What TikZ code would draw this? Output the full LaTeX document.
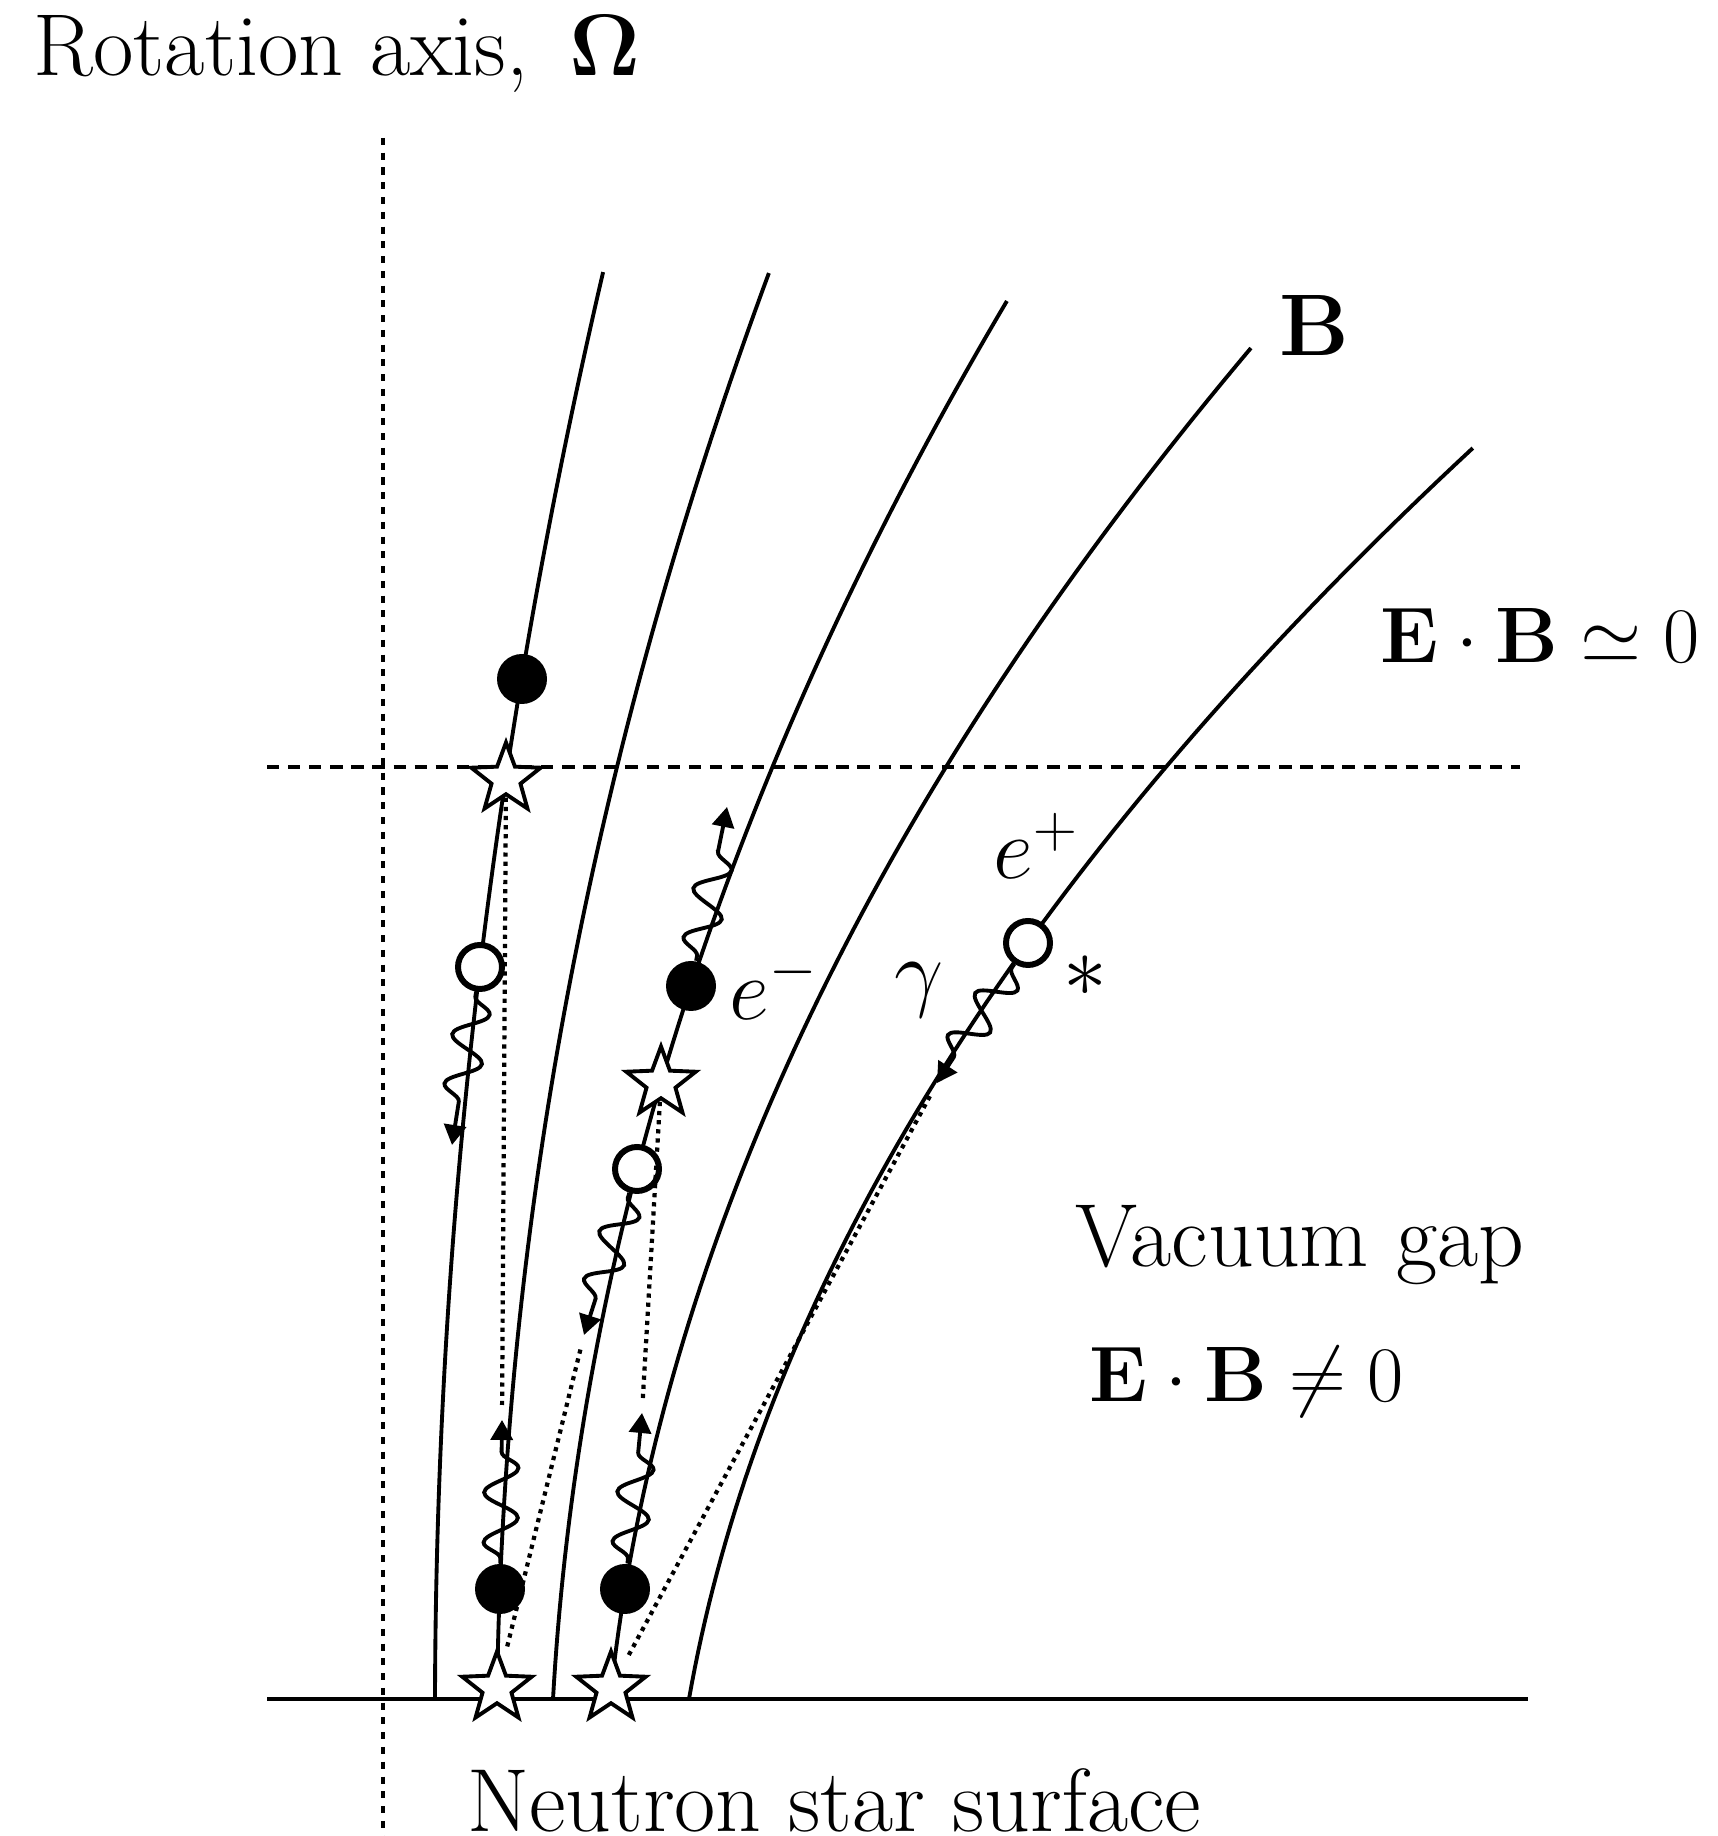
\documentclass[tikz,border=0pt]{standalone}
\usepackage{amsmath,amssymb,bm}
\usepackage{tikz}
\usetikzlibrary{arrows.meta,positioning,shapes.geometric,decorations.pathmorphing}
\tikzset{
  fline/.style={line width=1.1pt},
  gline/.style={line width=1.1pt,-{Triangle[length=2mm,width=2.2mm]},decorate,
    decoration={snake,amplitude=1.7mm,segment length=5mm,pre length=0.5mm,post length=2.5mm}},
  dpath/.style={line width=1.2pt,dash pattern=on 1.2pt off 1.4pt,shorten <=1.5mm},
  emin/.style={circle,fill=black,minimum size=5mm,inner sep=0pt},
  epos/.style={circle,draw=black,fill=white,line width=1.7pt,minimum size=4.4mm,inner sep=0pt},
  pstar/.style={star,star points=5,star point ratio=2.4,draw=black,fill=white,line width=1.1pt,minimum size=7.3mm,inner sep=0pt},
  lab/.style={inner sep=0pt},
  eqlab/.style={inner sep=0pt,scale=0.9,transform shape}
}

\begin{document}
\begin{tikzpicture}[font=\fontsize{25.5}{30}\selectfont]
  \useasboundingbox (0,0) rectangle (17.18,18.36);
  % rotation axis, top of the gap, surface
  \draw[line width=1pt,dash pattern=on 2pt off 2.2pt] (3.83,16.98) -- (3.83,0);
  \draw[line width=1pt,dash pattern=on 3.5pt off 2.5pt] (2.67,10.69) -- (15.20,10.69);
  \draw[fline] (2.67,1.37) -- (15.28,1.37);
  % open field lines, x as a function of the height above the surface
  \draw[fline] plot[domain=0:14.27,samples=80] ({4.35+0.00221*\x+0.008097*\x*\x},{1.37+\x});
  \draw[fline] plot[domain=0:14.26,samples=80] ({4.97+0.01183*\x+0.012547*\x*\x},{1.37+\x});
  \draw[fline] plot[domain=0:13.98,samples=80] ({5.53+0.05697*\x+0.019154*\x*\x},{1.37+\x});
  \draw[fline] plot[domain=0:13.51,samples=80] ({6.10+0.10709*\x+0.027193*\x*\x},{1.37+\x});
  \draw[fline] plot[domain=0:12.51,samples=80] ({6.89+0.17615*\x+0.036015*\x*\x},{1.37+\x});
  % particles
  \node[pstar] (src1) at (4.97,1.48) {};
  \node[emin] (prim1) at (5.00,2.47) {};
  \node[pstar] (pair1) at (5.06,10.57) {};
  \node[emin] (em1) at (5.22,11.57) {};
  \node[epos] (ep1) at (4.80,8.69) {};
  \node[pstar] (src2) at (6.11,1.48) {};
  \node[emin] (prim2) at (6.25,2.47) {};
  \node[pstar] (pair2) at (6.61,7.53) {};
  \node[emin] (em2) at (6.91,8.50) {};
  \node[epos] (ep2) at (6.37,6.67) {};
  \node[epos] (ep3) at (10.28,8.93) {};
  % photon ends
  \coordinate (g1) at (5.02,4.16);
  \coordinate (g2) at (6.42,4.23);
  \coordinate (g3) at (4.52,6.91);
  \coordinate (g4) at (7.27,10.29);
  \coordinate (g5) at (5.84,5.01);
  \coordinate (g6) at (9.37,7.53);
  \draw[gline] (prim1) -- (g1);
  \draw[gline] (prim2) -- (g2);
  \draw[gline] (ep1) -- (g3);
  \draw[gline] (em2) -- (g4);
  \draw[gline] (ep2) -- (g5);
  \draw[gline] (ep3) -- (g6);
  \draw[dpath] (g1) -- (pair1);
  \draw[dpath] (g2) -- (pair2);
  \draw[dpath,shorten >=1.5mm] (g5) -- (src1);
  \draw[dpath,shorten >=1.5mm] (g6) -- (src2);
  % labels
  \node[lab] (lem) at (7.74,8.50) {$e^-$};
  \node[lab] (lep) at (10.36,9.90) {$e^+$};
  \node[lab] (lgam) at (9.19,8.46) {$\gamma$};
  \node[lab] (last) at (10.85,8.60) {$*$};
  \node[lab] (lB) at (13.14,15.10) {$\mathbf{B}$};
  \node[eqlab] (leb0) at (15.40,12.00) {$\mathbf{E}\cdot\mathbf{B}\simeq 0$};
  \node[lab] (lgap) at (13.00,5.91) {Vacuum gap};
  \node[eqlab] (lebn) at (12.47,4.54) {$\mathbf{E}\cdot\mathbf{B}\neq 0$};
  \node[lab,anchor=base] (lsurf) at (8.34,0.04) {Neutron star surface};
  \node[lab,anchor=base west,font=\fontsize{25}{30}\selectfont] (laxis) at (0.33,17.60) {Rotation axis, \,$\bm{\Omega}$};
\end{tikzpicture}
\end{document}
